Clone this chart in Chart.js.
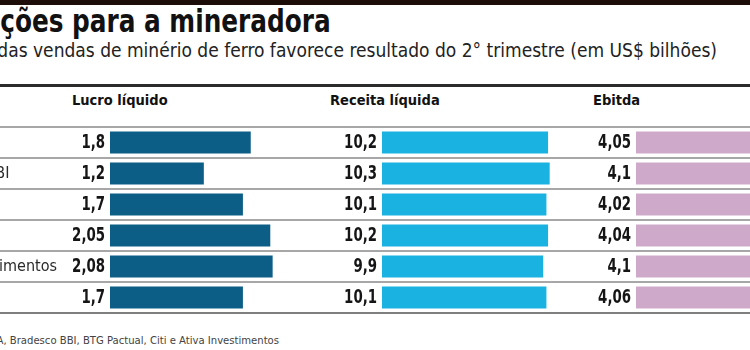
<!DOCTYPE html>
<html lang="pt-BR">
<head>
<meta charset="utf-8">
<script src="https://cdn.jsdelivr.net/npm/chart.js@4.4.1/dist/chart.umd.min.js"></script>
<style>
  html, body { margin: 0; padding: 0; background: #fff; }
  #wrap {
    position: relative; width: 750px; height: 350px; overflow: hidden; background: #fff;
    font-family: "DejaVu Sans Condensed", "DejaVu Sans", sans-serif; color: #1a1a1a;
  }
  .barra-topo { position: absolute; left: 0; top: 0; width: 750px; height: 5px; background: #1c0d08; }
  .titulo { position: absolute; right: 419px; top: 5px; line-height: 1; white-space: nowrap;
            font-weight: bold; font-size: 32px; color: #111;
            transform: scaleX(0.86); transform-origin: right center; }
  .subtitulo { position: absolute; right: 33px; top: 41px; line-height: 1; white-space: nowrap;
               font-size: 19px; color: #222; }
  .regua { position: absolute; left: 0; top: 84px; width: 750px; height: 3px; background: #2b2b2b; }
  .coluna { position: absolute; top: 93px; line-height: 1; font-weight: bold; font-size: 14.5px; color: #111; }
  .fonte { position: absolute; right: 471px; top: 335px; line-height: 1; white-space: nowrap;
           font-size: 11.2px; color: #444; }
  .grafico { position: absolute; top: 125px; height: 190px; }
</style>
</head>
<body>
<div id="wrap">
  <div class="barra-topo"></div>
  <div class="titulo">Projeções para a mineradora</div>
  <div class="subtitulo">Aumento das vendas de minério de ferro favorece resultado do 2° trimestre (em US$ bilhões)</div>
  <div class="regua"></div>
  <div class="coluna" style="left:72px">Lucro líquido</div>
  <div class="coluna" style="left:330px">Receita líquida</div>
  <div class="coluna" style="left:593px">Ebitda</div>
  <div class="grafico" id="caixaLucro"><canvas id="lucroChart"></canvas></div>
  <div class="grafico" style="left:300px; width:250px"><canvas id="receitaChart"></canvas></div>
  <div class="grafico" style="left:550px; width:450px"><canvas id="ebitdaChart"></canvas></div>
  <div class="fonte">Fontes: Itaú BBA, Bradesco BBI, BTG Pactual, Citi e Ativa Investimentos</div>
</div>

<script>
// dados (US$ bilhões)
const empresas = ['Itaú BBA', 'Bradesco BBI', 'BTG Pactual', 'Citi', 'Ativa Investimentos', 'Média'];
const lucroLiquido = [1.8, 1.2, 1.7, 2.05, 2.08, 1.7];
const receitaLiquida = [10.2, 10.3, 10.1, 10.2, 9.9, 10.1];
const ebitda = [4.05, 4.1, 4.02, 4.04, 4.1, 4.06];

const FONTE = '"DejaVu Sans Condensed", "DejaVu Sans", sans-serif';
const TAM_NOMES = 16;

// nomes alinhados à esquerda, o mais longo termina em x=57 (o resto fica cortado)
const medidor = document.createElement('canvas').getContext('2d');
medidor.font = TAM_NOMES + 'px ' + FONTE;
const largNomes = Math.max(...empresas.map(e => medidor.measureText(e).width));
const esqNomes = Math.round(57 - largNomes);
const caixaLucro = document.getElementById('caixaLucro');
caixaLucro.style.left = esqNomes + 'px';
caixaLucro.style.width = (300 - esqNomes) + 'px';

// linhas entre as empresas + valor escrito à esquerda de cada barra
const linhasEValores = {
  id: 'linhasEValores',
  beforeDatasetsDraw(chart) {
    const { ctx } = chart;
    const y = chart.scales.y;
    const n = chart.data.labels.length;
    ctx.save();
    ctx.lineWidth = 1.5;
    for (let i = 0; i <= n; i++) {
      const py = Math.round(y.getPixelForValue(i - 0.5));
      ctx.strokeStyle = i === n ? '#555' : '#8a8a8a';
      ctx.beginPath();
      ctx.moveTo(0, py);
      ctx.lineTo(chart.width, py);
      ctx.stroke();
    }
    ctx.restore();
  },
  afterDatasetsDraw(chart) {
    const { ctx } = chart;
    const valores = chart.data.datasets[0].data;
    chart.getDatasetMeta(0).data.forEach((bar, i) => {
      ctx.save();
      ctx.font = 'bold 19px ' + FONTE;
      ctx.fillStyle = '#151515';
      ctx.textAlign = 'right';
      ctx.textBaseline = 'middle';
      ctx.translate(bar.base - 5, bar.y + 1);
      ctx.scale(0.78, 1); // fonte estreita do jornal
      ctx.fillText(valores[i].toLocaleString('pt-BR'), 0, 0);
      ctx.restore();
    });
  }
};

function criaGrafico(id, valores, cor, maxX, padEsq, mostraNomes) {
  new Chart(document.getElementById(id), {
    type: 'bar',
    data: {
      labels: empresas,
      datasets: [{
        data: valores,
        backgroundColor: cor,
        borderWidth: 0,
        categoryPercentage: 1,
        barPercentage: 0.71
      }]
    },
    options: {
      indexAxis: 'y',
      responsive: true,
      maintainAspectRatio: false,
      animation: false,
      layout: { padding: { left: padEsq, right: 0, top: 2, bottom: 2 } },
      plugins: { legend: { display: false }, tooltip: { enabled: false } },
      scales: {
        x: { display: false, min: 0, max: maxX },
        y: {
          display: mostraNomes,
          grid: { display: false },
          border: { display: false },
          ticks: {
            crossAlign: 'far',
            padding: 0,
            color: '#2a2a2a',
            font: { family: FONTE, size: TAM_NOMES }
          },
          afterFit: (scale) => {
            if (!mostraNomes) return;
            scale.width = 110 - esqNomes;
            scale.paddingTop = 0;
            scale.paddingBottom = 0;
          }
        }
      }
    },
    plugins: [linhasEValores]
  });
}

criaGrafico('lucroChart', lucroLiquido, '#0c5e87', 2.43, 0, true);
criaGrafico('receitaChart', receitaLiquida, '#1ab2e0', 10.32, 82, false);
criaGrafico('ebitdaChart', ebitda, '#cfa9c9', 4.65, 86, false);
</script>
</body>
</html>
